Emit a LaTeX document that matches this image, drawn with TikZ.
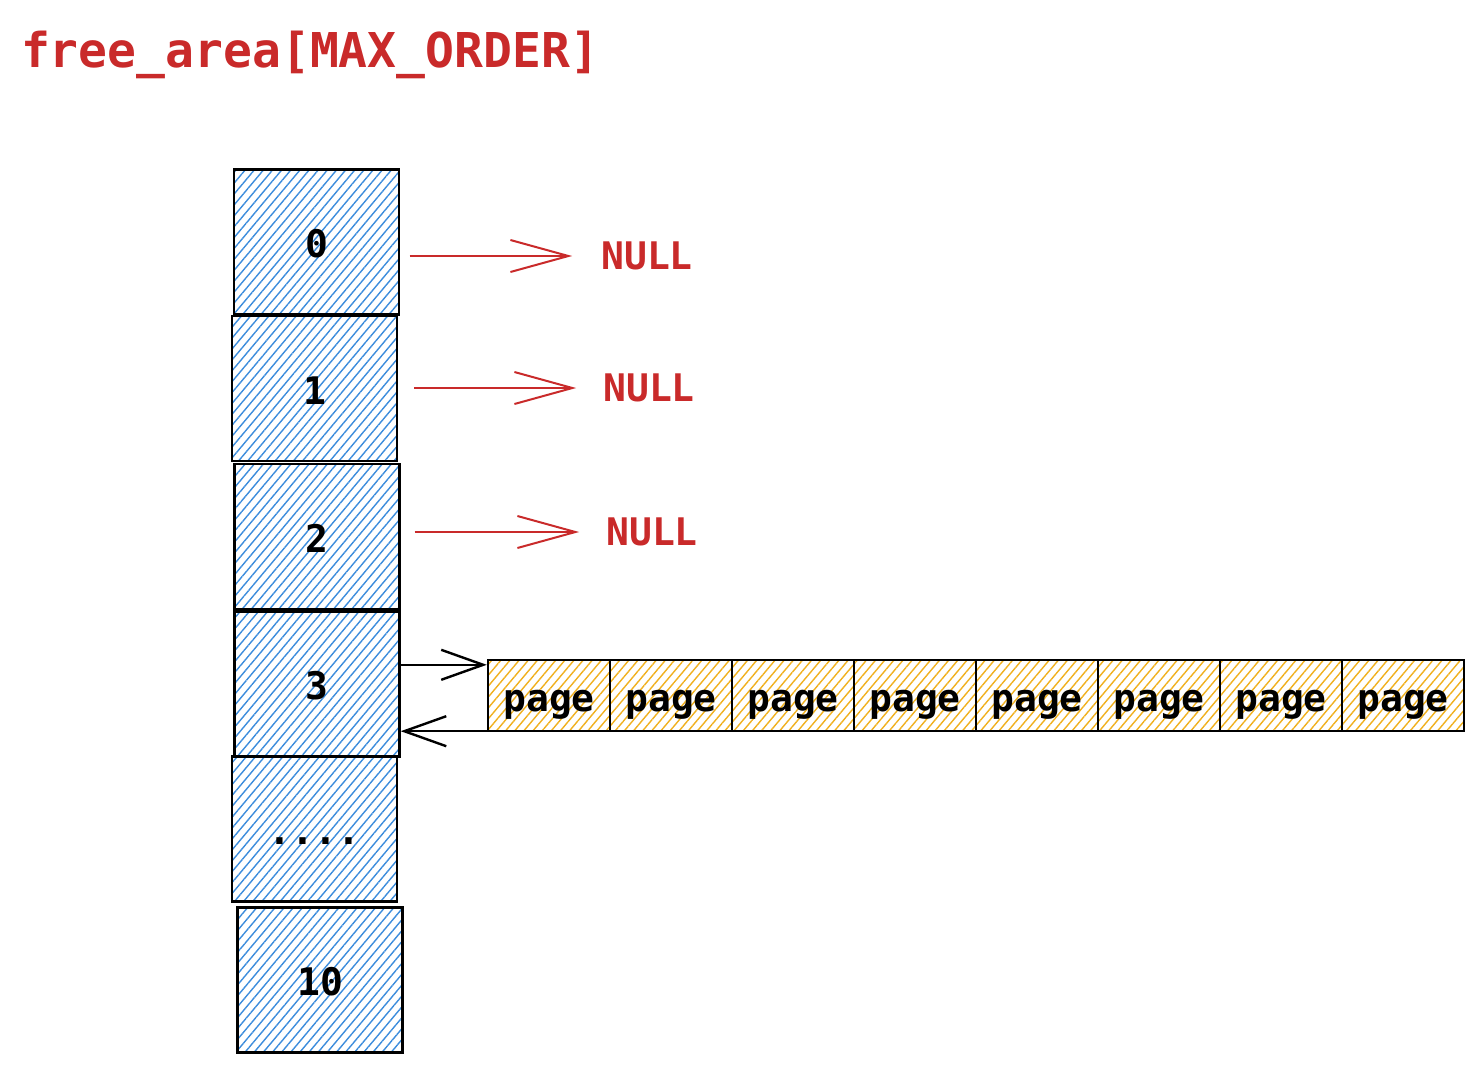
\documentclass[tikz,border=0pt]{standalone}
\usepackage{fontspec}
\setmonofont{DejaVu Sans Mono}
\usetikzlibrary{arrows.meta}
\usetikzlibrary{patterns.meta}

\definecolor{nullred}{RGB}{201,42,42}
\definecolor{slotblue}{RGB}{60,140,220}
\definecolor{pageyellow}{RGB}{240,176,30}

\tikzset{
	slot/.style={draw=black, line width=1.2pt, minimum width=82.5pt, minimum height=72.5pt, inner sep=0pt,
		text height=4ex, text depth=0.3ex,
		pattern={Lines[angle=50, distance=3.5pt, line width=0.7pt]}, pattern color=slotblue,
		font=\fontsize{19}{22}\selectfont\ttfamily\bfseries},
	pagebox/.style={draw=black, line width=1.2pt, minimum width=61pt, minimum height=35.5pt, inner sep=0pt,
		text height=4ex, text depth=0.3ex,
		pattern={Lines[angle=50, distance=3.5pt, line width=0.7pt]}, pattern color=pageyellow,
		font=\fontsize{19}{22}\selectfont\ttfamily\bfseries},
	nulltext/.style={text=nullred, font=\fontsize{19}{22}\selectfont\ttfamily\bfseries},
	nullarrow/.style={draw=nullred, line width=1pt, -{Straight Barb[length=29pt, width=16pt, line width=1pt]}},
	linkarrow/.style={draw=black, line width=1.2pt, -{Straight Barb[length=21pt, width=15pt, line width=1.2pt]}}
}

\begin{document}
\begin{tikzpicture}[x=0.5pt, y=-0.5pt]
	\useasboundingbox (0,0) rectangle (1484,1072);
	\node [anchor=west, text=nullred, font=\fontsize{24}{28}\selectfont\ttfamily\bfseries] (title) at (14,55) {free\_area[MAX\_ORDER]};
	% free area slots
	\node [slot] (s0) at (316.5,242) {0};
	\node [slot] (s1) at (314.5,388.5) {1};
	\node [slot] (s2) at (317,536.5) {2};
	\node [slot] (s3) at (317,684) {3};
	\node [slot] (sdots) at (314.5,829) {....};
	\node [slot] (s10) at (320,980) {10};
	% empty lists
	\node [nulltext] (n0) at (647,256) {NULL};
	\node [nulltext] (n1) at (649,388) {NULL};
	\node [nulltext] (n2) at (652,532) {NULL};
	\draw [nullarrow, shorten <=5pt, shorten >=11pt] (s0.east |- n0.west) -- (n0.west);
	\draw [nullarrow, shorten <=8pt, shorten >=10pt] (s1.east |- n1.west) -- (n1.west);
	\draw [nullarrow, shorten <=7pt, shorten >=10pt] (s2.east |- n2.west) -- (n2.west);
	% list of pages on order 3
	\foreach \i in {0,...,7}
		\node [pagebox] (p\i) at (549+\i*122,695.5) {page};
	\draw [linkarrow] ([yshift=-3pt]p0.north west -| s3.east) -- ([yshift=-3pt]p0.north west);
	\draw [linkarrow] ([yshift=0.5pt]p0.south west) -- ([yshift=0.5pt]p0.south west -| s3.east);
\end{tikzpicture}
\end{document}
